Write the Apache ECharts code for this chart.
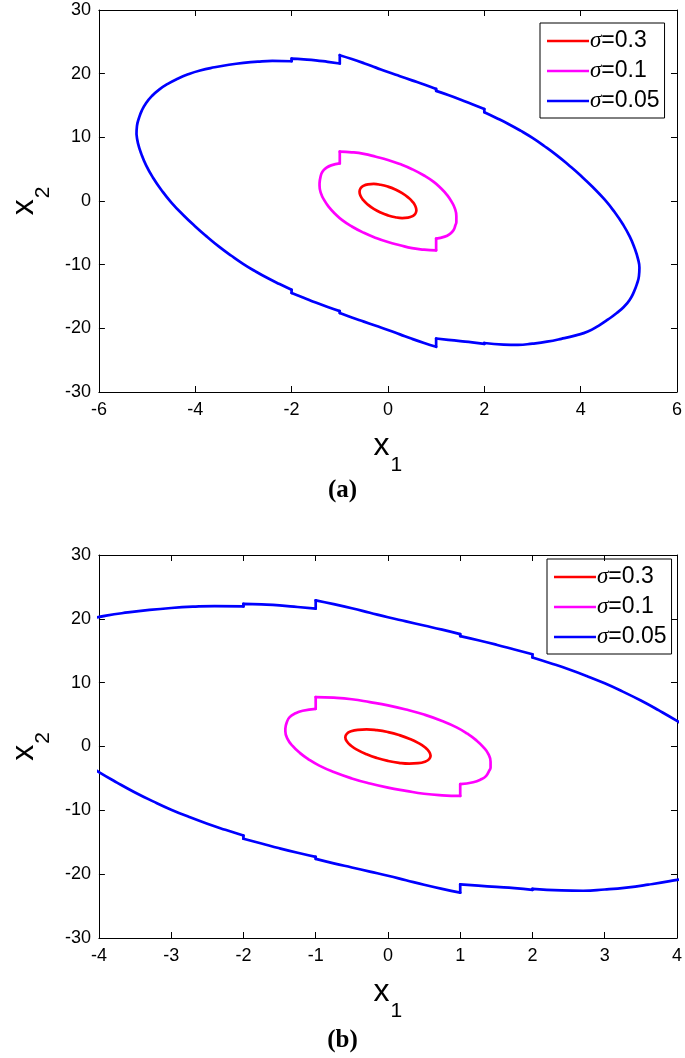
<!DOCTYPE html>
<html>
<head>
<meta charset="utf-8">
<script src="https://cdn.jsdelivr.net/npm/echarts@6/dist/echarts.min.js"></script>
<style>
html,body{margin:0;padding:0;background:#fff;}
#chart{width:685px;height:1058px;}
</style>
</head>
<body>
<div id="chart"></div>
<script>
// ---- data ----
const seriesNames = ['σ=0.3', 'σ=0.1', 'σ=0.05'];
const seriesColors = ['#ff0000', '#ff00ff', '#0000ff'];

const redCurve = [
  [0.590, -1.448], [0.570, -1.983], [0.511, -2.382], [0.417, -2.618], [0.295, -2.677],
  [0.153, -2.553], [0.000, -2.256], [-0.153, -1.804], [-0.295, -1.229], [-0.417, -0.571],
  [-0.511, 0.126], [-0.570, 0.815], [-0.590, 1.448], [-0.570, 1.983], [-0.511, 2.382],
  [-0.417, 2.618], [-0.295, 2.677], [-0.153, 2.553], [0.000, 2.256], [0.153, 1.804],
  [0.295, 1.229], [0.417, 0.571], [0.511, -0.126], [0.570, -0.815], [0.590, -1.448]
];

const magentaCurve = [
  [-1.42, 2.8], [-1.40, 3.8], [-1.36, 4.6], [-1.28, 5.2], [-1.18, 5.6], [-1.00, 5.9],
  [-1.00, 7.75], [-0.75, 7.65], [-0.50, 7.4], [-0.25, 6.95], [0.00, 6.45], [0.25, 5.8],
  [0.50, 5.0], [0.75, 4.0], [0.95, 3.0], [1.10, 2.0], [1.22, 1.0], [1.32, -0.1],
  [1.39, -1.2], [1.42, -2.4], [1.42, -3.3], [1.40, -3.8], [1.36, -4.6], [1.28, -5.2],
  [1.18, -5.6], [1.00, -5.9], [1.00, -7.75], [0.75, -7.65], [0.50, -7.4], [0.25, -6.95],
  [0.00, -6.45], [-0.25, -5.8], [-0.50, -5.0], [-0.75, -4.0], [-0.95, -3.0], [-1.10, -2.0],
  [-1.22, -1.0], [-1.32, 0.1], [-1.39, 1.2], [-1.42, 2.4], [-1.42, 2.8]
];

const blueCurve = [
  [-5.22, 10.5], [-5.21, 11.8], [-5.17, 13.0], [-5.11, 14.2], [-5.02, 15.4], [-4.90, 16.5],
  [-4.75, 17.5], [-4.57, 18.4], [-4.37, 19.2], [-4.15, 19.9], [-3.90, 20.5], [-3.60, 21.0],
  [-3.30, 21.4], [-3.00, 21.7], [-2.70, 21.9], [-2.40, 22.0], [-2.00, 21.95], [-2.00, 22.35],
  [-1.75, 22.25], [-1.50, 22.1], [-1.25, 21.85], [-1.00, 21.6], [-1.00, 22.9], [-0.75, 22.3],
  [-0.50, 21.65], [-0.25, 20.95], [0.00, 20.25], [0.25, 19.6], [0.50, 18.95], [0.75, 18.3],
  [1.00, 17.6], [1.00, 17.3], [1.25, 16.65], [1.50, 15.95], [1.75, 15.2], [2.00, 14.45],
  [2.00, 13.95], [2.25, 13.05], [2.50, 12.1], [2.75, 11.05], [3.00, 9.9], [3.25, 8.6],
  [3.50, 7.2], [3.75, 5.65], [4.00, 4.0], [4.25, 2.2], [4.50, 0.2], [4.70, -1.7],
  [4.88, -3.7], [5.02, -5.6], [5.12, -7.4], [5.19, -9.1], [5.22, -10.5],
  [5.21, -11.8], [5.17, -13.0], [5.11, -14.2], [5.02, -15.5], [4.90, -16.6], [4.75, -17.6],
  [4.57, -18.6], [4.37, -19.6], [4.15, -20.5], [3.90, -21.1], [3.60, -21.65], [3.30, -22.1],
  [3.00, -22.4], [2.70, -22.6], [2.40, -22.55], [2.00, -22.3], [2.00, -22.45], [1.75, -22.2],
  [1.50, -22.0], [1.25, -21.8], [1.00, -21.6], [1.00, -22.9], [0.75, -22.3], [0.50, -21.65],
  [0.25, -20.95], [0.00, -20.25], [-0.25, -19.6], [-0.50, -18.95], [-0.75, -18.3], [-1.00, -17.6],
  [-1.00, -17.3], [-1.25, -16.65], [-1.50, -15.95], [-1.75, -15.2], [-2.00, -14.45], [-2.00, -13.95],
  [-2.25, -13.05], [-2.50, -12.1], [-2.75, -11.05], [-3.00, -9.9], [-3.25, -8.6], [-3.50, -7.2],
  [-3.75, -5.65], [-4.00, -4.0], [-4.25, -2.2], [-4.50, -0.2], [-4.70, 1.7], [-4.88, 3.7],
  [-5.02, 5.6], [-5.12, 7.4], [-5.19, 9.1], [-5.22, 10.5]
];

const panelLabels = ['(a)', '(b)'];
const xRanges = [[-6, 6, 2], [-4, 4, 1]];
const yRange = [-30, 30, 10];

// split a curve at its vertical jumps (consecutive points sharing an integer x)
function splitAtJumps(pts) {
  const smoothPart = [], jumpPart = [];
  for (let i = 0; i < pts.length; i++) {
    smoothPart.push(pts[i]);
    const nx = pts[i + 1];
    if (nx && nx[0] === pts[i][0] && Number.isInteger(pts[i][0])) {
      smoothPart.push('-');
      jumpPart.push(pts[i], nx, '-');
    }
  }
  return {smoothPart, jumpPart};
}

// ---- chart ----
const chart = echarts.init(document.getElementById('chart'), null, {renderer: 'canvas'});
const FONT = 'Liberation Sans, Arial, sans-serif';
const grids = [
  {left: 88, top: 10, width: 591, height: 382},
  {left: 88, top: 555, width: 591, height: 383}
];
const legendPos = [{left: 540, top: 23}, {left: 547, top: 559}];
const labelTops = [478, 1028];

const nameRich = {
  a: {fontSize: 32, fontFamily: FONT, color: '#000', verticalAlign: 'bottom', lineHeight: 32},
  b: {fontSize: 21, fontFamily: FONT, color: '#000', verticalAlign: 'bottom', lineHeight: 32, padding: [0, 0, -14, 1]}
};

const xAxes = [], yAxes = [], series = [], legends = [], graphics = [];
grids.forEach((g, i) => {
  const xr = xRanges[i];
  const common = {
    gridIndex: i, type: 'value', splitLine: {show: false},
    axisLine: {show: true, onZero: false, lineStyle: {color: '#000', width: 1}},
    axisTick: {show: true, inside: true, length: 6, lineStyle: {color: '#000', width: 1}}
  };
  xAxes.push(Object.assign({}, common, {
    position: 'bottom', min: xr[0], max: xr[1], interval: xr[2],
    axisLabel: {show: true, margin: 9, color: '#000', fontSize: 18, fontFamily: FONT},
    name: '{a|x}{b|1}', nameLocation: 'middle', nameGap: 38,
    nameTextStyle: {rich: nameRich}
  }));
  xAxes.push(Object.assign({}, common, {
    position: 'top', min: xr[0], max: xr[1], interval: xr[2],
    axisLabel: {show: false}
  }));
  yAxes.push(Object.assign({}, common, {
    position: 'left', min: yRange[0], max: yRange[1], interval: yRange[2],
    axisLabel: {show: true, margin: 8, color: '#000', fontSize: 18, fontFamily: FONT},
    name: '{a|x}{b|2}', nameLocation: 'middle', nameGap: 52,
    nameTextStyle: {rich: nameRich}
  }));
  yAxes.push(Object.assign({}, common, {
    position: 'right', min: yRange[0], max: yRange[1], interval: yRange[2],
    axisLabel: {show: false}
  }));
  const curves = [redCurve, magentaCurve, blueCurve];
  curves.forEach((c, k) => {
    const parts = splitAtJumps(c);
    const base = {
      type: 'line', name: seriesNames[k], xAxisIndex: i * 2, yAxisIndex: i * 2,
      showSymbol: false, symbol: 'none', clip: true, animation: false, connectNulls: false,
      lineStyle: {color: seriesColors[k], width: 2.7, join: 'round', cap: 'round'},
      itemStyle: {color: seriesColors[k]}
    };
    series.push(Object.assign({}, base, {data: parts.smoothPart, smooth: 0.5}));
    if (parts.jumpPart.length) {
      series.push(Object.assign({}, base, {data: parts.jumpPart, smooth: false}));
    }
  });
  legends.push({
    orient: 'vertical', left: legendPos[i].left, top: legendPos[i].top,
    data: seriesNames, icon: 'rect', itemWidth: 42, itemHeight: 2.7, itemGap: 6,
    borderColor: '#000', borderWidth: 1, padding: [6, 5, 5, 7],
    selectedMode: false,
    formatter: n => '{s|σ}{n|' + n.slice(1) + '}',
    textStyle: {
      color: '#000', fontSize: 23, lineHeight: 24, fontFamily: FONT, padding: [0, 0, 0, -4],
      rich: {
        s: {fontSize: 23, lineHeight: 24, fontStyle: 'italic', fontFamily: 'Liberation Serif, serif', color: '#000'},
        n: {fontSize: 23, lineHeight: 24, fontFamily: FONT, color: '#000'}
      }
    }
  });
  graphics.push({
    type: 'text', left: 'center', top: labelTops[i],
    style: {text: panelLabels[i], font: 'bold 25px "Liberation Serif", serif', fill: '#000'}
  });
});

chart.setOption({
  backgroundColor: '#fff',
  animation: false,
  grid: grids,
  xAxis: xAxes,
  yAxis: yAxes,
  legend: legends,
  series: series,
  graphic: graphics
});
</script>
</body>
</html>
